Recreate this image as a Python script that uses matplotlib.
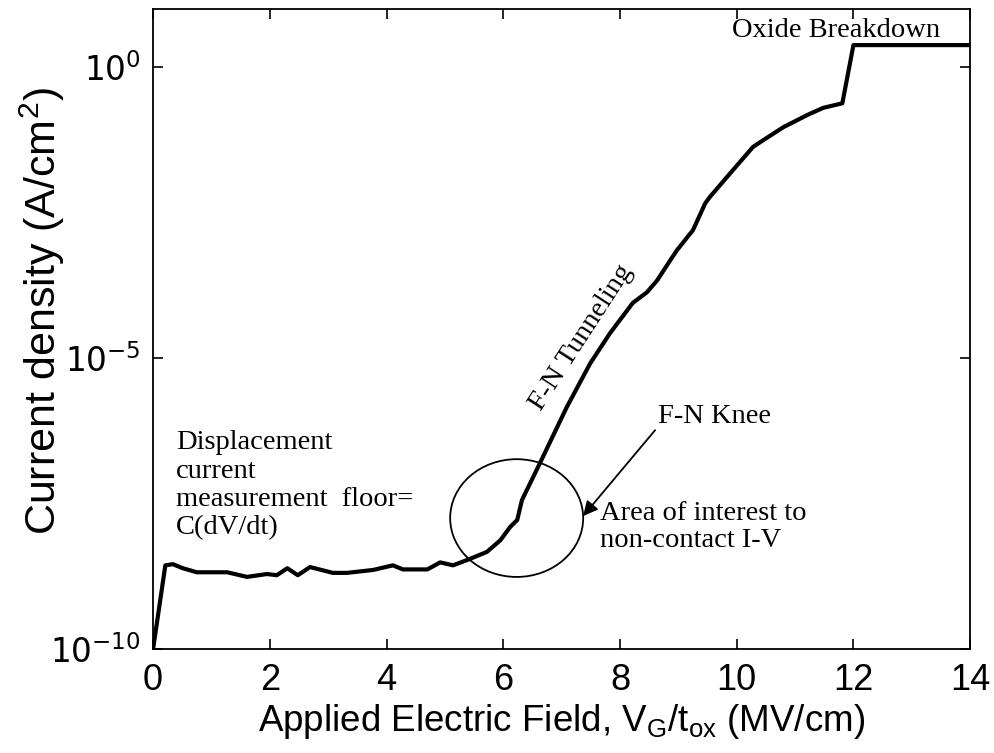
import matplotlib
matplotlib.use("Agg")
import matplotlib.pyplot as plt
from matplotlib.patches import Ellipse

# Applied field (MV/cm) and measured current density (A/cm^2)
field = [0.0, 0.21, 0.34, 0.51, 0.75, 1.27, 1.61, 1.95, 2.12, 2.30, 2.48, 2.69,
         3.08, 3.32, 3.77, 4.11, 4.28, 4.70, 4.92, 5.14, 5.38, 5.72, 5.95, 6.12,
         6.24, 6.32, 6.63, 7.09, 7.49, 7.83, 8.22, 8.46, 8.64, 8.86, 8.98, 9.25,
         9.46, 9.54, 9.89, 10.28, 10.40, 10.80, 11.21, 11.48, 11.81, 12.0, 14.0]
current = [1.0e-10, 2.75e-9, 2.88e-9, 2.45e-9, 2.09e-9, 2.09e-9, 1.74e-9, 1.95e-9,
           1.86e-9, 2.45e-9, 1.86e-9, 2.57e-9, 2.04e-9, 2.04e-9, 2.29e-9, 2.75e-9,
           2.34e-9, 2.34e-9, 3.09e-9, 2.75e-9, 3.39e-9, 4.68e-9, 7.41e-9, 1.26e-8,
           1.66e-8, 3.63e-8, 1.58e-7, 1.45e-6, 8.13e-6, 2.69e-5, 8.91e-5, 1.35e-4,
           2.19e-4, 4.79e-4, 7.24e-4, 1.58e-3, 4.57e-3, 5.89e-3, 1.51e-2, 4.27e-2,
           5.13e-2, 9.33e-2, 0.151, 0.200, 0.240, 2.40, 2.40]

x_ticks = [0, 2, 4, 6, 8, 10, 12, 14]
y_ticks = [1e-10, 1e-5, 1e0]
y_ticklabels = [r'$\mathregular{10^{-10}}$', r'$\mathregular{10^{-5}}$', r'$\mathregular{10^{0}}$']

plt.rcParams['mathtext.fontset'] = 'custom'
plt.rcParams['mathtext.rm'] = 'Liberation Sans'
plt.rcParams['mathtext.it'] = 'Liberation Sans:italic'

sans = 'Liberation Sans'
serif = 'Liberation Serif'

fig = plt.figure(figsize=(9.94, 7.53), dpi=100)
ax = fig.add_axes([0.154, 0.138, 0.822, 0.850])

ax.semilogy(field, current, color='black', lw=3.0, solid_joinstyle='round')

ax.set_xlim(0, 14)
ax.set_ylim(1e-10, 1e1)
ax.set_xticks(x_ticks)
ax.set_xticklabels([str(t) for t in x_ticks], fontfamily=sans, fontsize=26)
ax.set_yticks(y_ticks)
ax.set_yticklabels(y_ticklabels, fontsize=23.5)
ax.yaxis.set_minor_locator(matplotlib.ticker.NullLocator())
ax.tick_params(direction='in', length=7, width=1.2, top=True, right=True)
ax.tick_params(axis='x', pad=10)
ax.tick_params(axis='y', pad=9)
for s in ax.spines.values():
    s.set_linewidth(1.3)

ax.set_xlabel(r'Applied Electric Field, V$_\mathregular{G}$/t$_\mathregular{ox}$ (MV/cm)',
              fontfamily=sans, fontsize=26.5)
ax.xaxis.set_label_coords(0.5, -0.083)
ax.set_ylabel(r'Current density (A/cm$^\mathregular{2}$)', fontfamily=sans, fontsize=31,
              va='center')
ax.yaxis.set_label_coords(-0.136, 0.528)

tkw = dict(transform=ax.transAxes, fontfamily=serif, fontsize=20.5, color='black')
ax.text(0.709, 0.956, 'Oxide Breakdown', ha='left', va='baseline', **tkw)
ax.text(0.524, 0.487, 'F-N Tunneling', ha='center', va='center', rotation=57,
        rotation_mode='anchor', **tkw)
ax.text(0.618, 0.353, 'F-N Knee', ha='left', va='baseline', **tkw)
ax.text(0.547, 0.232, 'Area of interest to\nnon-contact I-V', ha='left', va='top',
        linespacing=1.15, **tkw)
ax.text(0.028, 0.342, 'Displacement\ncurrent\nmeasurement  floor=\nC(dV/dt)',
        ha='left', va='top', linespacing=1.18, **tkw)

ax.add_patch(Ellipse((0.445, 0.2047), 0.1628, 0.184, transform=ax.transAxes,
                     fill=False, edgecolor='black', lw=1.3))
ax.annotate('', xy=(0.5263, 0.2078), xytext=(0.6144, 0.342),
            xycoords='axes fraction', textcoords='axes fraction',
            arrowprops=dict(arrowstyle='-|>', color='black', lw=1.3,
                            mutation_scale=22, shrinkA=0, shrinkB=0))

fig.savefig('out.png', dpi=100, facecolor='white')
